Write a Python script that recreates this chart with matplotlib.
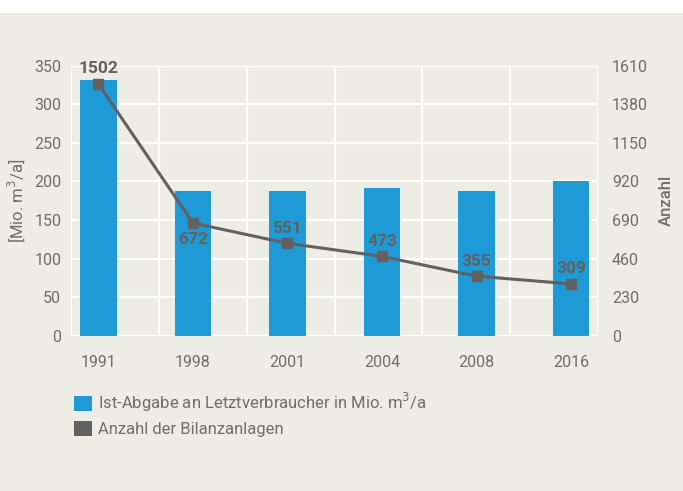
import matplotlib
matplotlib.use("Agg")
import matplotlib.pyplot as plt
from matplotlib.patches import Patch
import numpy as np

years = ["1991", "1998", "2001", "2004", "2008", "2016"]
abgabe = [332, 188, 188, 191, 188, 200]
anlagen = [1502, 672, 551, 473, 355, 309]
label_above = [True, False, True, True, True, True]
left_ticks = [0, 50, 100, 150, 200, 250, 300, 350]
right_ticks = [0, 230, 460, 690, 920, 1150, 1380, 1610]

BG = "#EDECE5"
BAR = "#1E9BD7"
LINE = "#616161"
TXT = "#6E6E6E"

plt.rcParams['font.family'] = ['Roboto', 'DejaVu Sans']

fig = plt.figure(figsize=(6.83, 4.91), dpi=100)
fig.patch.set_facecolor(BG)
fig.add_artist(plt.Rectangle((0, 1 - 13 / 491), 1, 13 / 491, transform=fig.transFigure,
                             facecolor="white", edgecolor="none", zorder=0))

ax = fig.add_axes([71 / 683, 1 - 335.7 / 491, 527 / 683, 269.9 / 491])
ax.set_facecolor(BG)
x = np.arange(len(years))
xlim = (-0.29, 5.285)
ax.set_xlim(*xlim)
ax.set_ylim(0, 350)

for gx in np.linspace(xlim[0], xlim[1], 7):
    ax.axvline(gx, color="white", lw=1.6, zorder=0.5)
for gy in left_ticks:
    ax.axhline(gy, color="white", lw=1.6, zorder=0.5)

ax.bar(x, abgabe, width=0.39, color=BAR, zorder=2)
ax.set_xticks(x)
ax.set_xticklabels(years)
ax.set_yticks(left_ticks)
ax.tick_params(axis='both', length=0, labelsize=11.5, labelcolor=TXT)
ax.tick_params(axis='x', pad=14)
ax.tick_params(axis='y', pad=7)
for s in ax.spines.values():
    s.set_visible(False)
ax.set_ylabel("[Mio. m$^3$/a]", color=TXT, fontsize=12, labelpad=5)

ax2 = ax.twinx()
ax2.set_ylim(0, 1610)
ax2.set_yticks(right_ticks)
ax2.tick_params(axis='y', length=0, labelsize=11.5, labelcolor=TXT, pad=10)
for s in ax2.spines.values():
    s.set_visible(False)
ax2.set_ylabel("Anzahl", color=TXT, fontsize=12, fontweight='medium', labelpad=8)
ax2.plot(x, anlagen, color=LINE, lw=2.2, marker='s', markersize=6.5, zorder=3)
for xi, v, above in zip(x, anlagen, label_above):
    ax2.annotate(str(v), (xi, v), xytext=(0, 15 if above else -16), textcoords='offset pixels',
                 ha='center', va='center', fontsize=12.5, fontweight='bold', color=LINE, zorder=4)

handles = [Patch(facecolor=BAR, edgecolor='none'), Patch(facecolor="#616161", edgecolor='none')]
labels = ["Ist-Abgabe an Letztverbraucher in Mio. m$^3$/a", "Anzahl der Bilanzanlagen"]
fig.legend(handles, labels, loc='upper left', bbox_to_anchor=(66 / 683, 1 - 383 / 491),
           frameon=False, fontsize=12, handlelength=1.05, handleheight=1.05,
           handletextpad=0.35, labelspacing=0.38, borderpad=0, labelcolor=TXT)

fig.savefig("out.png", dpi=100, facecolor=BG)
